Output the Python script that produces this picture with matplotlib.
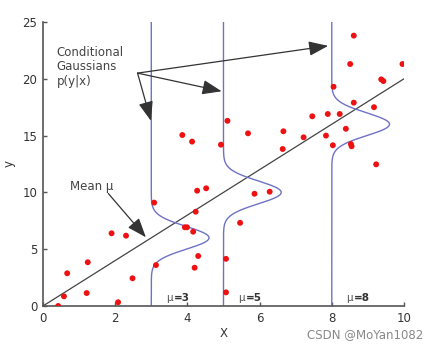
import numpy as np
import matplotlib
matplotlib.use("Agg")
import matplotlib.pyplot as plt

# Observed samples (x, y)
x_pts = [0.42, 0.58, 0.67, 1.21, 1.24, 1.90, 2.30, 2.48, 2.08, 3.08, 3.13,
         5.11, 3.86, 4.13, 4.93, 5.68, 6.66, 6.64, 4.27, 4.52, 5.86, 6.28,
         4.23, 3.93, 3.99, 4.16, 5.46, 4.30, 4.20, 5.07, 5.07,
         8.61, 8.51, 9.96, 9.37, 9.43, 8.05, 8.61, 9.17, 7.46, 7.89, 8.22,
         7.22, 7.84, 8.39, 8.03, 8.53, 8.55, 9.23]
y_pts = [0.0, 0.85, 2.88, 1.14, 3.85, 6.4, 6.19, 2.44, 0.33, 9.1, 3.6,
         16.3, 15.05, 14.47, 14.2, 15.2, 15.38, 13.82, 10.15, 10.36, 9.88, 10.06,
         8.3, 6.93, 6.93, 6.54, 7.32, 4.4, 3.37, 4.15, 1.2,
         23.8, 21.3, 21.3, 19.95, 19.8, 19.3, 17.9, 17.5, 16.7, 16.9, 16.9,
         14.85, 15.0, 15.6, 14.15, 14.26, 14.06, 12.47]

# Mean line y = slope * x
slope = 2.0
x_line = [0, 10]

# Conditional Gaussians p(y|x) drawn at these x positions
x_slices = [3, 5, 8]
slice_labels = ["3", "5", "8"]
sigma = 1.0
amp = 1.6

fig = plt.figure(figsize=(4.41, 3.47), dpi=100)
ax = fig.add_axes([0.0975, 0.1182, 0.8185, 0.8184])

ax.plot(x_line, [slope * v for v in x_line], color="#444444", lw=0.9, zorder=2)

yy = np.linspace(0, 25, 600)
for xs in x_slices:
    mu = slope * xs
    xx = xs + amp * np.exp(-(yy - mu) ** 2 / (2 * sigma ** 2))
    ax.plot(xx, yy, color="#6f72c4", lw=1.0, zorder=2)

ax.scatter(x_pts, y_pts, s=18, color="#ee1111", edgecolors="none", zorder=3)

for xs, lab in zip(x_slices, slice_labels):
    ax.text(xs + 0.4, 0.3, "μ", fontsize=7.5, color="#555555",
            ha="left", va="bottom")
    ax.text(xs + 0.62, 0.3, "=" + lab, fontsize=7.5, fontweight="bold",
            color="#333333", ha="left", va="bottom")

ax.text(0.38, 21.05, "Conditional\nGaussians\np(y|x)", fontsize=8.5,
        color="#444444", ha="left", va="center", linespacing=1.15)
ax.text(0.75, 10.5, "Mean μ", fontsize=8.5, color="#444444",
        ha="left", va="center")

arrow_kw = dict(arrowstyle="-|>,head_length=0.85,head_width=0.32",
                color="#333333", lw=0.9, mutation_scale=14,
                shrinkA=0, shrinkB=0, facecolor="black")
start = (2.62, 20.5)
for tgt in [(2.99, 16.3), (4.95, 18.9), (7.9, 22.9)]:
    ax.annotate("", xy=tgt, xytext=start, arrowprops=arrow_kw)
ax.annotate("", xy=(2.85, 6.05), xytext=(1.81, 9.9), arrowprops=arrow_kw)

ax.set_xlim(0, 10)
ax.set_ylim(0, 25)
ax.set_xticks([0, 2, 4, 6, 8, 10])
ax.set_yticks([0, 5, 10, 15, 20, 25])
for side in ["top", "right"]:
    ax.spines[side].set_visible(False)
for side in ["left", "bottom"]:
    ax.spines[side].set_color("#555555")
    ax.spines[side].set_linewidth(1.2)
ax.tick_params(direction="in", length=3, width=1, colors="#555555",
               labelcolor="#333333", labelsize=8.5, pad=4)
ax.set_xlabel("X", fontsize=8.5, color="#333333", labelpad=2)
ax.set_ylabel("y", fontsize=8.5, color="#333333", labelpad=5)

fig.text(0.96, 0.035, "CSDN @MoYan1082", fontsize=8.5, color="#888888",
         ha="right", va="center")

fig.savefig("out.png", dpi=100)
